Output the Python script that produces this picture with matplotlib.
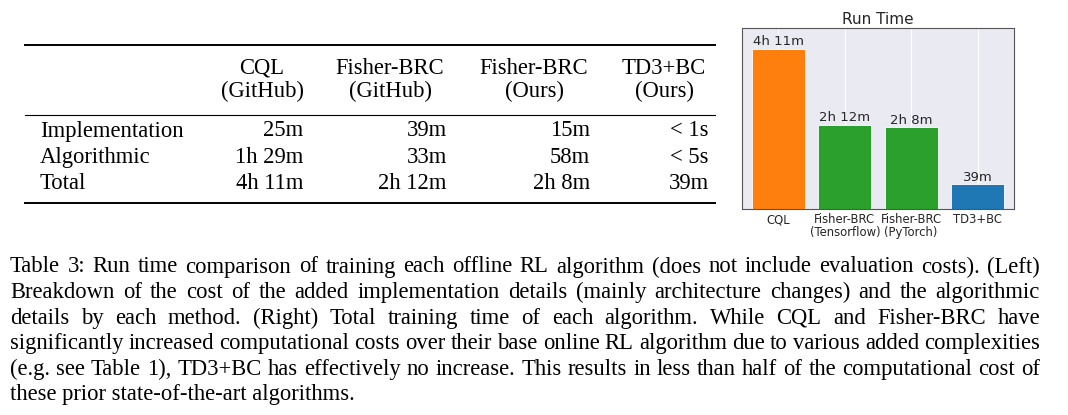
import numpy as np
import matplotlib.pyplot as plt

algos = ["CQL", "Fisher-BRC\n(Tensorflow)", "Fisher-BRC\n(PyTorch)", "TD3+BC"]
minutes = [251, 132, 128, 39]
time_labels = ["4h 11m", "2h 12m", "2h 8m", "39m"]
bar_colors = ["#ff7f0e", "#2ca02c", "#2ca02c", "#1f77b4"]

col_heads = ["CQL\n(GitHub)", "Fisher-BRC\n(GitHub)", "Fisher-BRC\n(Ours)", "TD3+BC\n(Ours)"]
row_names = ["Implementation", "Algorithmic", "Total"]
cells = [["25m", "39m", "15m", "< 1s"],
         ["1h 29m", "33m", "58m", "< 5s"],
         ["4h 11m", "2h 12m", "2h 8m", "39m"]]

caption = [
    "Table 3: Run time comparison of training each offline RL algorithm (does not include evaluation costs). (Left)",
    "Breakdown of the cost of the added implementation details (mainly architecture changes) and the algorithmic",
    "details by each method.  (Right) Total training time of each algorithm.  While CQL and Fisher-BRC have",
    "significantly increased computational costs over their base online RL algorithm due to various added complexities",
    "(e.g. see Table 1), TD3+BC has effectively no increase. This results in less than half of the computational cost of",
    "these prior state-of-the-art algorithms.",
]

W, H = 1068, 415
fig = plt.figure(figsize=(W / 100, H / 100), dpi=100)
serif = ["Liberation Serif", "DejaVu Serif"]
fs = 16.3

def fx(px): return px / W
def fy(py): return 1 - py / H

# table
for y, lw in [(45, 1.4), (115, 0.8), (203, 1.4)]:
    fig.add_artist(plt.Line2D([fx(25), fx(715)], [fy(y), fy(y)], color="black", lw=lw))
head_x = [262, 390, 534, 664]
right_x = [303, 447, 590, 709]
for x, h in zip(head_x, col_heads):
    fig.text(fx(x), fy(80), h, ha="center", va="center", family=serif, fontsize=fs, linespacing=1.15)
row_y = [131, 157, 183]
for y, name, row in zip(row_y, row_names, cells):
    fig.text(fx(40), fy(y), name, ha="left", va="center", family=serif, fontsize=fs)
    for x, v in zip(right_x, row):
        fig.text(fx(x), fy(y), v, ha="right", va="center", family=serif, fontsize=fs)

# caption, justified between x=10 and x=1040
renderer = fig.canvas.get_renderer()
left, right = 10, 1040
for i, line in enumerate(caption):
    y = fy(267 + i * 25.5)
    words = line.split()
    if i == len(caption) - 1:
        fig.text(fx(left), y, line, ha="left", va="center", family=serif, fontsize=fs)
        continue
    ts = [fig.text(0, y, w, ha="left", va="center", family=serif, fontsize=fs) for w in words]
    widths = [t.get_window_extent(renderer).width for t in ts]
    gap = (right - left - sum(widths)) / (len(words) - 1)
    x = left
    for t, w in zip(ts, widths):
        t.set_x(fx(x))
        x += w + gap

# bar chart
ax = fig.add_axes([fx(742), fy(209), fx(1014 - 742), (209 - 28) / H])
ax.set_facecolor("#eaeaf2")
xs = np.arange(len(algos))
bars = ax.bar(xs, minutes, color=bar_colors, width=0.8, edgecolor="white", linewidth=0.6, zorder=2)
for b, t in zip(bars, time_labels):
    ax.text(b.get_x() + b.get_width() / 2, b.get_height() + 1, t, ha="center", va="bottom",
            fontsize=9.5, color="#262626")
ax.set_xlim(-0.55, 3.55)
ax.set_ylim(0, 284)
ax.set_xticks(xs)
ax.set_xticklabels(algos, fontsize=8.4, color="#262626", linespacing=1.0)
ax.tick_params(length=0, pad=3)
ax.set_yticks([])
ax.grid(axis="x", color="white", lw=0.8, zorder=1)
for s in ax.spines.values():
    s.set_color("#555555")
    s.set_linewidth(0.8)
ax.set_title("Run Time", fontsize=11, color="#262626", pad=3)

fig.savefig("out.png", dpi=100)
